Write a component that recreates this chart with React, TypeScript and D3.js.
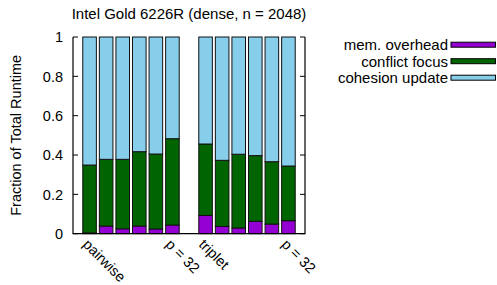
import React from "react";
import * as d3 from "d3";

const title = "Intel Gold 6226R (dense, n = 2048)";
const series = ["mem. overhead", "conflict focus", "cohesion update"];
const colors = ["#9400d3", "#006400", "#87ceeb"];

// slot positions (gnuplot histogram style: gap of one slot between groups)
const slots = [0, 1, 2, 3, 4, 5, 7, 8, 9, 10, 11, 12];
const memOverhead = [0.004, 0.039, 0.025, 0.039, 0.024, 0.044, 0.093, 0.037, 0.029, 0.063, 0.049, 0.066];
const conflictTop = [0.349, 0.378, 0.378, 0.417, 0.405, 0.483, 0.456, 0.373, 0.404, 0.397, 0.366, 0.344];
const xLabels = ["pairwise", "", "", "", "", "p = 32", "triplet", "", "", "", "", "p = 32"];
const yTicks = [0, 0.2, 0.4, 0.6, 0.8, 1];

const W = 497;
const H = 285;
const margin = { top: 37, right: 192, bottom: 51.3, left: 73 };

export default function App() {
  const x = d3.scaleLinear().domain([-1, 13]).range([margin.left, W - margin.right]);
  const y = d3.scaleLinear().domain([0, 1]).range([H - margin.bottom, margin.top]);
  const bw = (x(1) - x(0)) * 0.82;

  const stacks = slots.map((s, i) => {
    const a = memOverhead[i];
    const b = conflictTop[i];
    return { s, segs: [[0, a], [a, b], [b, 1]] };
  });

  const font = "'Liberation Sans', Arial, Helvetica, sans-serif";
  const y0 = y(0);
  const fs = 14.5;

  return (
    <svg width={W} height={H} style={{ position: "absolute", left: 0, top: 0, fontFamily: font }}>
      <rect width={W} height={H} fill="#fff" />
      <text x={(x(-1) + x(13)) / 2} y={19} textAnchor="middle" fontSize={15}>
        {title}
      </text>
      {stacks.map((st, i) => (
        <g key={i}>
          {st.segs.map((sg, j) => (
            <rect
              key={j}
              x={x(st.s) - bw / 2}
              y={y(sg[1])}
              width={bw}
              height={y(sg[0]) - y(sg[1])}
              fill={colors[j]}
              stroke="#111"
              strokeWidth={1}
            />
          ))}
        </g>
      ))}
      {/* axes */}
      <path
        d={`M${x(-1)},${y(1)}V${y0}H${x(13)}V${y(1)}`}
        fill="none"
        stroke="#000"
        strokeWidth={1.2}
      />
      {yTicks.map((t) => (
        <g key={t}>
          <line x1={x(-1)} x2={x(-1) + 5} y1={y(t)} y2={y(t)} stroke="#000" />
          <line x1={x(13)} x2={x(13) - 5} y1={y(t)} y2={y(t)} stroke="#000" />
          <text x={x(-1) - 10} y={y(t)} dy="0.36em" textAnchor="end" fontSize={fs}>
            {d3.format("~g")(t)}
          </text>
        </g>
      ))}
      {slots.map((s, i) =>
        xLabels[i] ? (
          <text
            key={i}
            transform={`translate(${x(s) - 4},${y0 + 8}) rotate(45)`}
            fontSize={fs}
            dy="0.35em"
          >
            {xLabels[i]}
          </text>
        ) : null
      )}
      <text
        transform={`translate(21,${(y(0) + y(1)) / 2}) rotate(-90)`}
        textAnchor="middle"
        fontSize={fs}
      >
        Fraction of Total Runtime
      </text>
      {series.map((name, i) => (
        <g key={name} transform={`translate(0,${44.7 + i * 16.5})`}>
          <text x={448} y={0} dy="0.36em" textAnchor="end" fontSize={15}>
            {name}
          </text>
          <rect x={451} y={-2.5} width={44.5} height={5} fill={colors[i]} stroke="#000" strokeWidth={1} />
        </g>
      ))}
    </svg>
  );
}
